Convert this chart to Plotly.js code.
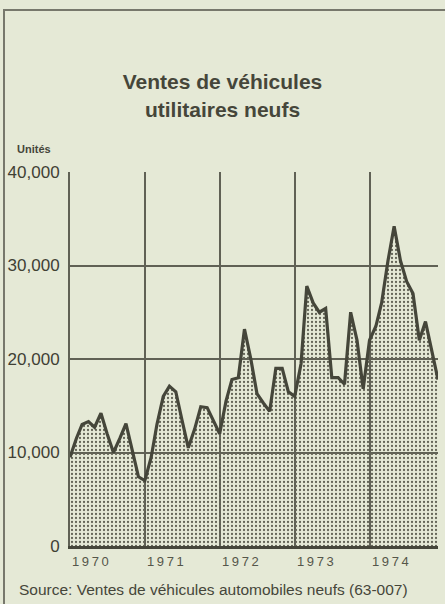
<!DOCTYPE html>
<html>
<head>
<meta charset="utf-8">
<script src="https://cdn.plot.ly/plotly-3.0.1.min.js"></script>
<style>
html,body{margin:0;padding:0;background:#e5e9d6;}
#chart{width:445px;height:604px;}
#frame{position:absolute;left:3px;top:9px;width:442px;height:595px;border-left:2px solid #77786c;border-top:2px solid #77786c;pointer-events:none;}
</style>
</head>
<body>
<div id="chart"></div>
<div id="frame"></div>
<script>
// Monthly sales of new commercial vehicles (units), Jan 1970 - Dec 1974
const years = [1970, 1971, 1972, 1973, 1974];
const sales1970 = [9500, 11500, 13000, 13300, 12700, 14200, 12000, 10000, 11500, 13100, 10200, 7400];
const sales1971 = [7000, 9500, 13000, 16000, 17100, 16500, 13500, 10500, 12500, 14900, 14800, 13500];
const sales1972 = [12000, 15500, 17800, 18000, 23200, 20000, 16300, 15300, 14400, 19000, 19000, 16500];
const sales1973 = [16000, 19500, 27800, 26000, 25000, 25400, 18000, 18000, 17300, 25000, 22000, 16800];
const sales1974 = [22000, 23500, 26000, 30500, 34200, 30500, 28300, 27000, 22000, 24000, 21000, 17800];
const yTicks = [0, 10000, 20000, 30000, 40000];
const yearLabels = ['1970', '1971', '1972', '1973', '1974'];

const allSales = [sales1970, sales1971, sales1972, sales1973, sales1974];
const xDates = [], yVals = [];
years.forEach((yr, i) => {
  allSales[i].forEach((v, m) => {
    xDates.push(yr + '-' + String(m + 1).padStart(2, '0') + '-01');
    yVals.push(v);
  });
});

const ink = '#45463a';
const font = 'Liberation Sans, Arial, sans-serif';

const trace = {
  type: 'scatter', mode: 'lines', x: xDates, y: yVals,
  line: {color: ink, width: 3.2, shape: 'linear'},
  fill: 'tozeroy',
  fillcolor: 'rgba(120,125,105,0.14)',
  fillpattern: {shape: '.', fgcolor: '#646557', bgcolor: 'rgba(0,0,0,0)', size: 4, solidity: 0.25},
  hoverinfo: 'x+y'
};

const annotations = yearLabels.map((t, i) => ({
  text: t.split('').join('\u2009'), x: years[i] + '-01-01', xref: 'x', xanchor: 'left',
  y: -0.042, yref: 'paper', yanchor: 'middle', showarrow: false,
  font: {family: font, size: 13, color: '#55564a'}
}));
annotations.push({
  text: '<b>Unités</b>', x: -0.149, xref: 'paper', xanchor: 'left',
  y: 1.061, yref: 'paper', yanchor: 'middle', showarrow: false,
  font: {family: font, size: 11, color: ink}
});
annotations.push({
  text: 'Source: Ventes de véhicules automobiles neufs (63-007)', x: -0.143, xref: 'paper', xanchor: 'left',
  y: -0.117, yref: 'paper', yanchor: 'middle', showarrow: false,
  font: {family: font, size: 15.5, color: ink}
});

const layout = {
  width: 445, height: 604,
  margin: {l: 70, r: 7, t: 172, b: 58},
  paper_bgcolor: '#e5e9d6', plot_bgcolor: '#e5e9d6',
  showlegend: false,
  title: {
    text: '<b>Ventes de véhicules<br>utilitaires neufs</b>',
    x: 0.5, xref: 'container', xanchor: 'center',
    y: 0.852, yref: 'container', yanchor: 'middle',
    font: {family: font, size: 21, color: ink}
  },
  xaxis: {
    type: 'date', range: ['1970-01-01', '1974-12-01'],
    tick0: '1970-01-01', dtick: 'M12',
    showgrid: true, gridcolor: '#606155', gridwidth: 2,
    showticklabels: false, ticks: '',
    showline: true, linecolor: ink, linewidth: 3,
    zeroline: false, fixedrange: true
  },
  yaxis: {
    range: [0, 40000], tickmode: 'array', tickvals: yTicks,
    tickformat: ',d',
    showgrid: true, gridcolor: '#606155', gridwidth: 2,
    ticks: '', ticklabelstandoff: 5,
    tickfont: {family: font, size: 17, color: '#3f4034'},
    showline: true, linecolor: '#606155', linewidth: 2,
    zeroline: false, fixedrange: true
  },
  annotations: annotations
};

Plotly.newPlot('chart', [trace], layout, {displayModeBar: false, staticPlot: true});
</script>
</body>
</html>
